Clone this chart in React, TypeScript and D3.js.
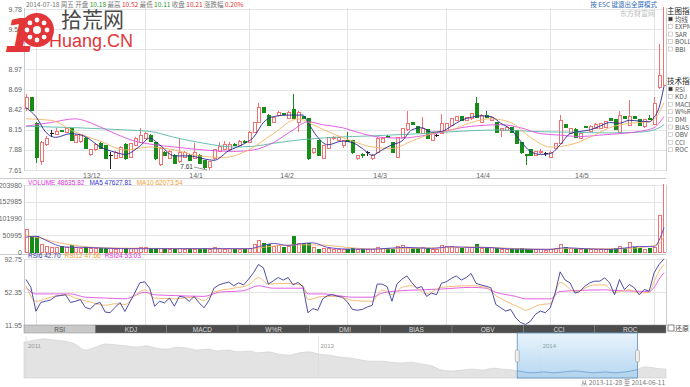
import * as d3 from "d3";
import React from "react";

// candles (index 0 = first visible day)
const opens = [
  8.44, 8.59, 8.24, 7.72, 7.96, 8.10, 8.09, 8.14, 8.12, 8.17,
  7.98, 8.00, 8.04, 7.82, 7.88, 7.97, 7.94, 7.81, 7.77, 7.78,
  7.96, 7.78, 7.94, 7.98, 8.04, 8.08, 7.98, 7.68, 7.85, 7.77,
  7.81, 7.72, 7.78, 7.81, 7.77, 7.81, 7.74, 7.65, 7.77, 7.86,
  7.89, 7.88, 7.96, 7.94, 8.00, 7.98, 8.12, 8.25, 8.45, 8.35,
  8.25, 8.35, 8.37, 8.31, 8.42, 8.25, 8.33, 8.30, 7.84, 8.01,
  7.77, 7.90, 8.03, 8.01, 7.94, 8.01, 8.01, 7.76, 7.82, 7.84,
  7.76, 7.85, 7.98, 8.06, 7.98, 7.78, 8.05, 8.15, 8.25, 8.19,
  8.10, 8.15, 8.01, 8.08, 8.10, 8.14, 8.21, 8.28, 8.33, 8.28,
  8.30, 8.50, 8.25, 8.34, 8.28, 8.25, 8.14, 8.14, 8.18, 8.14,
  7.98, 7.82, 7.88, 7.81, 7.84, 7.83, 7.78, 7.90, 7.97, 8.22,
  8.10, 8.16, 8.04, 8.19, 8.13, 8.17, 8.17, 8.18, 8.30, 8.29,
  8.12, 8.33, 8.21, 8.33, 8.29, 8.19, 8.30, 8.23, 8.72, 8.75,
];
const closes = [
  8.59, 8.41, 7.78, 7.98, 8.04, 8.10, 8.13, 8.13, 8.17, 8.01,
  8.08, 8.09, 7.90, 7.88, 7.96, 7.90, 7.77, 7.81, 7.85, 7.92,
  7.77, 7.97, 8.04, 8.08, 8.10, 8.00, 7.77, 7.90, 7.81, 7.86,
  7.70, 7.85, 7.85, 7.74, 7.85, 7.70, 7.64, 7.72, 7.88, 7.93,
  7.96, 7.96, 7.94, 8.00, 7.98, 8.12, 8.25, 8.45, 8.39, 8.21,
  8.32, 8.39, 8.36, 8.39, 8.31, 8.39, 8.31, 7.77, 7.90, 7.81,
  7.94, 8.05, 8.05, 8.05, 8.01, 8.00, 7.84, 7.80, 7.80, 7.84,
  7.81, 8.04, 8.04, 8.05, 7.85, 8.05, 8.17, 8.24, 8.23, 8.12,
  8.17, 8.04, 8.10, 8.08, 8.24, 8.24, 8.30, 8.33, 8.28, 8.32,
  8.37, 8.32, 8.34, 8.32, 8.32, 8.12, 8.17, 8.18, 8.12, 7.97,
  7.84, 7.80, 7.81, 7.86, 7.86, 7.83, 7.85, 7.97, 8.28, 8.18,
  8.17, 8.05, 8.10, 8.18, 8.20, 8.22, 8.24, 8.26, 8.28, 8.16,
  8.34, 8.31, 8.33, 8.31, 8.21, 8.29, 8.29, 8.51, 8.89, 9.85,
];
const highs = [
  8.64, 8.60, 8.26, 8.00, 8.07, 8.15, 8.17, 8.15, 8.19, 8.18,
  8.09, 8.10, 8.05, 7.89, 7.97, 7.99, 7.95, 7.85, 7.86, 7.93,
  7.97, 7.98, 8.05, 8.17, 8.12, 8.09, 7.99, 7.92, 7.86, 7.88,
  7.82, 8.04, 7.86, 7.82, 7.98, 7.82, 7.75, 7.73, 7.89, 7.99,
  8.00, 7.99, 7.97, 8.02, 8.01, 8.13, 8.26, 8.51, 8.46, 8.36,
  8.33, 8.40, 8.38, 8.40, 8.64, 8.40, 8.34, 8.31, 7.91, 8.02,
  7.95, 8.06, 8.07, 8.06, 8.02, 8.12, 8.02, 7.81, 7.84, 7.86,
  7.82, 8.05, 8.05, 8.08, 7.99, 8.06, 8.18, 8.41, 8.26, 8.20,
  8.32, 8.16, 8.11, 8.10, 8.37, 8.25, 8.31, 8.34, 8.34, 8.33,
  8.38, 8.60, 8.36, 8.41, 8.33, 8.26, 8.18, 8.19, 8.19, 8.15,
  7.99, 7.83, 7.89, 7.87, 7.89, 7.85, 7.86, 7.98, 8.35, 8.23,
  8.18, 8.17, 8.11, 8.20, 8.22, 8.24, 8.25, 8.27, 8.31, 8.30,
  8.41, 8.34, 8.55, 8.34, 8.30, 8.30, 8.35, 8.59, 9.31, 9.90,
];
const lows = [
  8.41, 8.40, 7.70, 7.68, 7.94, 8.05, 8.08, 8.12, 8.11, 8.00,
  7.97, 7.98, 7.89, 7.80, 7.86, 7.89, 7.76, 7.62, 7.76, 7.77,
  7.74, 7.77, 7.93, 7.97, 8.03, 7.99, 7.75, 7.66, 7.80, 7.76,
  7.69, 7.71, 7.77, 7.73, 7.76, 7.69, 7.62, 7.61, 7.75, 7.85,
  7.88, 7.87, 7.93, 7.93, 7.97, 7.97, 8.11, 8.24, 8.38, 8.20,
  8.24, 8.34, 8.35, 8.30, 8.30, 8.12, 8.30, 7.75, 7.83, 7.80,
  7.76, 7.89, 8.02, 8.00, 7.90, 7.99, 7.83, 7.74, 7.77, 7.80,
  7.74, 7.84, 7.97, 8.04, 7.84, 7.77, 8.04, 8.14, 8.22, 8.11,
  8.09, 8.03, 8.00, 8.06, 8.09, 8.13, 8.20, 8.27, 8.27, 8.27,
  8.29, 8.31, 8.24, 8.31, 8.27, 8.11, 8.05, 8.13, 8.11, 7.96,
  7.83, 7.68, 7.80, 7.80, 7.83, 7.80, 7.77, 7.89, 7.96, 8.17,
  8.09, 8.04, 8.03, 8.17, 8.12, 8.16, 8.16, 8.17, 8.27, 8.15,
  8.11, 8.30, 8.20, 8.30, 8.20, 8.18, 8.28, 8.22, 8.70, 8.74,
];
const volumes = [
  67000, 46000, 47000, 24000, 16000, 14000, 14000, 16000, 13000, 19000,
  13000, 11000, 14000, 11000, 10000, 11000, 12000, 10000, 9000, 10000,
  11000, 10000, 11000, 14000, 13000, 11000, 12000, 10000, 9000, 8000,
  9000, 11000, 8000, 9000, 8000, 9000, 10000, 9000, 13000, 11000,
  9000, 10000, 7000, 9000, 8000, 12000, 22000, 34000, 27000, 22000,
  16000, 19000, 15000, 17000, 46000, 27000, 25000, 26000, 14000, 9000,
  11000, 10000, 9000, 8000, 8000, 9000, 10000, 8000, 7000, 8000,
  9000, 14000, 12000, 10000, 9000, 16000, 19000, 14000, 10000, 12000,
  13000, 11000, 9000, 8000, 19000, 17000, 16000, 13000, 12000, 15000,
  14000, 23000, 12000, 11000, 13000, 10000, 9000, 8000, 8000, 9000,
  10000, 8000, 7000, 8000, 7000, 6000, 9000, 12000, 22000, 14000,
  11000, 9000, 8000, 7000, 8000, 9000, 8000, 7000, 8000, 10000,
  17000, 11000, 28000, 14000, 10000, 9000, 11000, 13000, 110000, 260000,
];

// moving averages as [day, value]
const ma5: [number, number][] = [
  [0, 8.45], [2, 8.33], [4, 8.12], [6, 8.05], [9, 8.1], [12, 8.06], [15, 7.92], [18, 7.85], [20, 7.82],
  [23, 7.93], [25, 8.04], [27, 7.95], [30, 7.8], [33, 7.8], [36, 7.76], [38, 7.74], [41, 7.87], [44, 7.96],
  [46, 8.05], [48, 8.25], [50, 8.33], [53, 8.35], [56, 8.35], [57, 8.25], [59, 8.05], [61, 7.95], [64, 8.0],
  [66, 7.98], [68, 7.9], [70, 7.81], [72, 7.88], [74, 7.95], [76, 8.0], [78, 8.15], [80, 8.18], [82, 8.12],
  [84, 8.13], [86, 8.2], [88, 8.28], [90, 8.32], [92, 8.34], [94, 8.33], [96, 8.24], [98, 8.16], [100, 8.0],
  [102, 7.86], [104, 7.82], [106, 7.83], [108, 7.95], [110, 8.1], [112, 8.13], [114, 8.15], [116, 8.2],
  [118, 8.25], [120, 8.24], [122, 8.28], [124, 8.27], [126, 8.26], [127, 8.32], [128, 8.45], [129, 8.74],
];
const ma10: [number, number][] = [
  [0, 8.3], [5, 8.28], [10, 8.12], [15, 8.0], [20, 7.88], [25, 7.92], [30, 7.88], [35, 7.8], [40, 7.78],
  [45, 7.88], [50, 8.1], [55, 8.3], [58, 8.22], [62, 8.1], [66, 8.0], [70, 7.92], [74, 7.9], [78, 8.0],
  [82, 8.1], [86, 8.15], [90, 8.25], [94, 8.3], [98, 8.25], [102, 8.05], [106, 7.92], [110, 7.95],
  [114, 8.05], [118, 8.18], [122, 8.24], [126, 8.26], [128, 8.38], [129, 8.52],
];
const ma20: [number, number][] = [
  [0, 8.2], [5, 8.25], [10, 8.3], [14, 8.22], [18, 8.1], [22, 8.0], [26, 7.95], [30, 7.92], [36, 7.88],
  [42, 7.86], [46, 7.88], [50, 7.98], [54, 8.15], [57, 8.26], [60, 8.22], [64, 8.18], [68, 8.1], [72, 8.05],
  [76, 8.04], [80, 8.07], [84, 8.12], [88, 8.18], [92, 8.21], [96, 8.22], [100, 8.18], [104, 8.1],
  [108, 8.08], [112, 8.06], [116, 8.08], [120, 8.1], [124, 8.13], [127, 8.18], [129, 8.33],
];
const ma30: [number, number][] = [
  [0, 8.2], [10, 8.18], [20, 8.15], [25, 8.13], [30, 8.05], [36, 7.97], [42, 7.92], [46, 7.93], [50, 7.97],
  [56, 8.02], [62, 8.05], [70, 8.07], [80, 8.1], [90, 8.14], [96, 8.15], [102, 8.13], [110, 8.12],
  [118, 8.11], [124, 8.12], [127, 8.15], [129, 8.22],
];
const volMa5: [number, number][] = [
  [0, 45000], [2, 48000], [4, 36000], [6, 22000], [8, 15000], [12, 14000], [20, 10000], [30, 10000],
  [40, 10000], [45, 10000], [48, 20000], [50, 26000], [53, 20000], [56, 26000], [58, 28000], [61, 14000],
  [65, 9000], [70, 8500], [73, 11000], [77, 14000], [82, 11000], [86, 16000], [90, 14000], [93, 14000],
  [97, 10000], [102, 8500], [106, 8000], [109, 13000], [113, 10000], [118, 8000], [121, 12000],
  [124, 17000], [127, 16000], [128, 35000], [129, 75000],
];
const volMa10: [number, number][] = [
  [0, 50000], [3, 42000], [6, 30000], [10, 20000], [15, 13000], [25, 11000], [35, 10000], [45, 10000],
  [50, 18000], [55, 22000], [60, 21000], [65, 14000], [70, 9000], [75, 10000], [80, 12000], [85, 13000],
  [90, 15000], [95, 13000], [100, 10000], [105, 8000], [110, 11000], [115, 10000], [120, 10000],
  [125, 15000], [128, 25000], [129, 48000],
];

const rsi6 = [
  67.7, 57.9, 28.8, 39.5, 41.1, 42.7, 47.2, 48, 49, 39.5,
  41, 43, 33.4, 31.5, 37.5, 39.5, 27.8, 27, 33.4, 39.5,
  28.5, 40, 51.3, 63.6, 64.8, 57, 35, 41, 39, 45,
  35, 47, 46, 41, 47, 39, 33, 42, 57, 61,
  63, 64.5, 60, 63.6, 61, 68, 76, 86, 82, 62,
  66, 70, 67, 70, 61, 64, 59, 27, 32, 30,
  44, 48, 49, 47, 46, 40, 31, 30, 31, 34,
  36, 62, 62, 59, 41, 62, 68, 72, 64, 57,
  59, 47, 51, 49, 63, 65, 69, 72, 67, 70,
  75, 63, 61, 59.5, 57.5, 37, 33, 29, 31, 21,
  15, 12.6, 16.6, 25, 29, 27, 33, 51, 77, 67,
  63.6, 51, 53, 59.5, 63.6, 65.6, 65.6, 69.7, 63.6, 49,
  67.6, 55.4, 61.5, 57.5, 49, 55.4, 53.4, 75.8, 86, 93,
];
const rsi12: [number, number][] = [
  [0, 60], [2, 41], [5, 46], [8, 49], [10, 45], [13, 40], [16, 36], [18, 38], [20, 37], [22, 48],
  [24, 55], [26, 45], [30, 44], [34, 46], [36, 42], [38, 52], [42, 57], [45, 61], [47, 70], [49, 62],
  [53, 63], [56, 60], [57, 43], [60, 47], [63, 47], [66, 42], [70, 41], [72, 55], [74, 49], [76, 58],
  [78, 60], [81, 50], [84, 58], [90, 60], [93, 58], [95, 48], [97, 41], [100, 33], [101, 30], [104, 37],
  [106, 38], [108, 64], [111, 53], [115, 61], [117, 61], [119, 52], [122, 55], [124, 51], [126, 52],
  [127, 65], [128, 78], [129, 86],
];
const rsi24: [number, number][] = [
  [0, 58], [2, 50], [5, 50], [9, 50], [12, 46], [16, 45], [20, 44], [24, 52], [26, 49], [30, 48],
  [36, 47], [39, 52], [44, 54], [47, 60], [50, 57], [56, 57], [57, 50], [60, 50], [63, 48], [66, 46],
  [70, 46], [72, 51], [76, 54], [80, 55], [84, 56], [90, 58], [93, 57], [95, 52], [99, 47], [101, 44],
  [106, 44], [108, 53], [111, 54], [117, 55], [120, 54], [126, 53], [127, 58], [128, 68], [129, 76],
];

const priceTicks = [7.61, 7.88, 8.15, 8.42, 8.69, 8.97, 9.24, 9.51, 9.78];
const volTicks = [0, 50995, 101990, 152985, 203980];
const rsiTicks = [11.95, 52.35, 92.75];
const monthLabels = ["13/12", "14/1", "14/2", "14/3", "14/4", "14/5"];
const monthIdx = [13.3, 34.4, 52.8, 71.6, 92.4, 112.4];
const gridIdx = [2, 24, 45, 65, 85, 106, 127];

const tabs = ["RSI", "KDJ", "MACD", "W%R", "DMI", "BIAS", "OBV", "CCI", "ROC"];
const mainOpts = ["均线", "EXPMA", "SAR", "BOLL", "BBI"];
const techOpts = ["RSI", "KDJ", "MACD", "W%R", "DMI", "BIAS", "OBV", "CCI", "ROC"];

// long range overview (navigator)
const navVals = [
  14.7, 15.1, 15.4, 15.1, 14.9, 14.3, 13.0, 13.6, 14.3, 14.1,
  13.9, 13.6, 13.9, 13.4, 13.2, 13.6, 13.4, 13.0, 13.2, 12.8,
  13.0, 12.6, 12.8, 12.4, 12.6, 12.1, 11.9, 12.4, 12.6, 12.1,
  11.9, 11.5, 11.3, 10.9, 10.6, 10.6, 10.4, 10.2, 10.4, 10.0,
  9.6, 8.7, 8.5, 8.7, 8.9, 8.7, 9.1, 8.9, 8.7, 8.3,
  8.1, 8.3, 8.1, 8.3, 8.5, 8.3, 8.1, 8.3, 8.1, 8.3,
  8.7, 9.4, 9.1, 8.9,
];
const navYears = ["2011", "2013", "2014"];
const navYearIdx = [0.2, 28.9, 50.7];
const navSel = [48.4, 60.2];

const UP = "#f07272";
const DOWN = "#188c18";
const FLAT = "#222";
const GRID = "#e4e4e4";
const NUM = "'Liberation Sans', Arial, sans-serif";
const CJK = "'Noto Sans CJK SC', sans-serif";

export default function App() {
  const n = closes.length;
  const L = 24;
  const R = 666;
  const x = d3.scaleLinear().domain([0, n - 1]).range([26, 664]);
  const yP = d3.scaleLinear().domain([7.61, 9.78]).range([170, 9]);
  const yV = d3.scaleLinear().domain([0, 203980]).range([252, 185]);
  const yR = d3.scaleLinear().domain([11.95, 92.75]).range([325, 259]);
  const xN = d3.scaleLinear().domain([0, navVals.length - 1]).range([L, R]);
  const yN = d3.scaleLinear().domain([7, 16]).range([378, 336]);

  const pLine = d3.line<[number, number]>().x((d) => x(d[0])).y((d) => yP(d[1])).curve(d3.curveMonotoneX);
  const vLine = d3.line<[number, number]>().x((d) => x(d[0])).y((d) => yV(d[1])).curve(d3.curveMonotoneX);
  const rLine = d3.line<[number, number]>().x((d) => x(d[0])).y((d) => yR(d[1])).curve(d3.curveMonotoneX);
  const rsi6Path = d3.line<number>().x((_, i) => x(i)).y((d) => yR(d))(rsi6) || "";
  const navArea = d3.area<number>().x((_, i) => xN(i)).y0(378).y1((d) => yN(d)).curve(d3.curveMonotoneX)(navVals) || "";
  const navLine = d3.line<number>().x((_, i) => xN(i)).y((d) => yN(d)).curve(d3.curveMonotoneX)(navVals) || "";
  const tabW = (R - L) / tabs.length;
  const lowIdx = lows.indexOf(d3.min(lows) as number);

  return (
    <svg width={690} height={387} style={{ position: "absolute", left: 0, top: 0, background: "#fff" }}>
      <defs>
        <clipPath id="cMain"><rect x={L} y={7} width={R - L} height={165} /></clipPath>
        <clipPath id="cVol"><rect x={L} y={184} width={R - L} height={69} /></clipPath>
        <clipPath id="cRsi"><rect x={L} y={258} width={R - L} height={68} /></clipPath>
        <clipPath id="cSel"><rect x={xN(navSel[0])} y={333} width={xN(navSel[1]) - xN(navSel[0])} height={46} /></clipPath>
        <linearGradient id="gSel" x1="0" y1="0" x2="0" y2="1">
          <stop offset="0" stopColor="#e4f1fb" />
          <stop offset="1" stopColor="#a9d1ef" />
        </linearGradient>
      </defs>

      {/* grid */}
      <g shapeRendering="crispEdges" stroke={GRID}>
        {priceTicks.map((t) => <line key={t} x1={L} x2={R} y1={Math.round(yP(t)) + 0.5} y2={Math.round(yP(t)) + 0.5} />)}
        {volTicks.map((t) => <line key={t} x1={L} x2={R} y1={Math.round(yV(t)) + 0.5} y2={Math.round(yV(t)) + 0.5} />)}
        {rsiTicks.map((t) => <line key={t} x1={L} x2={R} y1={Math.round(yR(t)) + 0.5} y2={Math.round(yR(t)) + 0.5} />)}
        {gridIdx.map((g) => (
          <g key={g}>
            <line x1={Math.round(x(g)) + 0.5} x2={Math.round(x(g)) + 0.5} y1={8} y2={171} />
            <line x1={Math.round(x(g)) + 0.5} x2={Math.round(x(g)) + 0.5} y1={185} y2={252} />
            <line x1={Math.round(x(g)) + 0.5} x2={Math.round(x(g)) + 0.5} y1={259} y2={325} />
          </g>
        ))}
        <line x1={L + 0.5} x2={L + 0.5} y1={8} y2={171} stroke="#ccc" />
        <line x1={R + 0.5} x2={R + 0.5} y1={8} y2={171} stroke="#ccc" />
        <line x1={L + 0.5} x2={L + 0.5} y1={185} y2={252} stroke="#ccc" />
        <line x1={R + 0.5} x2={R + 0.5} y1={185} y2={252} stroke="#ccc" />
        <line x1={L + 0.5} x2={L + 0.5} y1={259} y2={325} stroke="#ccc" />
        <line x1={R + 0.5} x2={R + 0.5} y1={259} y2={325} stroke="#ccc" />
        <line x1={0} x2={R} y1={178.5} y2={178.5} stroke="#ccc" />
        <line x1={0} x2={R} y1={254.5} y2={254.5} stroke="#ccc" />
      </g>

      {/* axis labels */}
      <g fontFamily={NUM} fontSize={7} fill="#666" textAnchor="end">
        {priceTicks.map((t) => <text key={t} x={22} y={yP(t) + 2.5}>{t.toFixed(2)}</text>)}
        {volTicks.map((t) => <text key={t} x={22} y={yV(t) + 2.5}>{t}</text>)}
        {rsiTicks.map((t) => <text key={t} x={22} y={yR(t) + 2.5}>{t.toFixed(2)}</text>)}
      </g>
      <g fontFamily={NUM} fontSize={7} fill="#666" textAnchor="middle">
        {monthLabels.map((m, i) => <text key={m} x={x(monthIdx[i])} y={178}>{m}</text>)}
      </g>

      {/* candles */}
      <g clipPath="url(#cMain)" shapeRendering="crispEdges">
        {closes.map((c, i) => {
          const o = opens[i];
          const cx = Math.round(x(i)) + 0.5;
          const col = c === o ? FLAT : c > o ? UP : DOWN;
          const top = yP(Math.max(o, c));
          const bot = yP(Math.min(o, c));
          return (
            <g key={i} stroke={col}>
              <line x1={cx} x2={cx} y1={yP(highs[i])} y2={top} />
              <line x1={cx} x2={cx} y1={bot} y2={yP(lows[i])} />
              {c === o ? (
                <line x1={cx - 2} x2={cx + 2} y1={top} y2={top} />
              ) : (
                <rect x={cx - 1.5} y={top} width={3} height={Math.max(bot - top, 1)} fill={c > o ? "#fff" : col} />
              )}
            </g>
          );
        })}
      </g>
      <g clipPath="url(#cMain)" fill="none" strokeWidth={0.9}>
        <path d={pLine(ma30) || ""} stroke="#58b8a8" />
        <path d={pLine(ma20) || ""} stroke="#e050e0" />
        <path d={pLine(ma10) || ""} stroke="#f2b468" />
        <path d={pLine(ma5) || ""} stroke="#262690" />
      </g>
      <g fontFamily={NUM} fontSize={6.5} fill="#333">
        <text x={x(lowIdx) - 16} y={yP(lows[lowIdx]) - 1} textAnchor="end">{lows[lowIdx].toFixed(2)}</text>
        <line x1={x(lowIdx) - 15} x2={x(lowIdx) - 2} y1={yP(lows[lowIdx]) - 3} y2={yP(lows[lowIdx])} stroke="#555" strokeWidth={0.6} />
      </g>

      {/* volume */}
      <g clipPath="url(#cVol)" shapeRendering="crispEdges">
        {volumes.map((v, i) => {
          const up = closes[i] >= opens[i];
          const cx = Math.round(x(i)) + 0.5;
          return (
            <rect key={i} x={cx - 1.5} y={yV(v)} width={3} height={yV(0) - yV(v)}
              fill={up ? "#fff" : DOWN} stroke={up ? UP : DOWN} />
          );
        })}
      </g>
      <g clipPath="url(#cVol)" fill="none" strokeWidth={0.9}>
        <path d={vLine(volMa10) || ""} stroke="#f2b468" />
        <path d={vLine(volMa5) || ""} stroke="#5a3cc8" />
      </g>
      <text x={28} y={185} fontFamily={NUM} fontSize={6.5}>
        <tspan fill="#e030e0">VOLUME 48635.82</tspan>
        <tspan fill="#3333cc" dx={5}>MA5 47627.81</tspan>
        <tspan fill="#f0a030" dx={5}>MA10 62073.54</tspan>
      </text>

      {/* rsi */}
      <g clipPath="url(#cRsi)" fill="none" strokeWidth={0.9}>
        <path d={rLine(rsi24) || ""} stroke="#e050e0" />
        <path d={rLine(rsi12) || ""} stroke="#f2b468" />
        <path d={rsi6Path} stroke="#3a3a9a" />
      </g>
      <text x={28} y={258} fontFamily={NUM} fontSize={6.5}>
        <tspan fill="#3333aa">RSI6 42.70</tspan>
        <tspan fill="#f0a030" dx={4}>RSI12 47.66</tspan>
        <tspan fill="#e030e0" dx={4}>RSI24 53.03</tspan>
      </text>

      {/* tabs */}
      <g fontFamily={NUM} fontSize={6.5} textAnchor="middle">
        {tabs.map((t, i) => (
          <g key={t}>
            <rect x={L + i * tabW} y={325} width={tabW} height={8} fill={i === 0 ? "#c8c8c8" : "#4d4d4d"} stroke="#888" strokeWidth={0.5} />
            <text x={L + (i + 0.5) * tabW} y={331.5} fill={i === 0 ? "#555" : "#ddd"}>{t}</text>
          </g>
        ))}
      </g>
      <rect x={668} y={325} width={6} height={6} fill="#fff" stroke="#666" strokeWidth={0.8} />
      <text x={675} y={331} fontFamily={CJK} fontSize={7} fill="#444">还原</text>

      {/* navigator */}
      <path d={navArea} fill="#e3e3e3" stroke="#cfcfcf" strokeWidth={0.6} />
      <g fontFamily={NUM} fontSize={6} fill="#999">
        {navYears.map((yy, i) => (
          <g key={yy}>
            <line x1={xN(navYearIdx[i])} x2={xN(navYearIdx[i])} y1={336} y2={378} stroke="#dadada" strokeWidth={0.6} />
            <text x={xN(navYearIdx[i]) + 2} y={348}>{yy}</text>
          </g>
        ))}
      </g>
      <rect x={xN(navSel[0])} y={333} width={xN(navSel[1]) - xN(navSel[0])} height={45} fill="url(#gSel)" fillOpacity={0.85} stroke="#5b8fbf" strokeWidth={0.8} />
      <path d={navLine} clipPath="url(#cSel)" fill="none" stroke="#6a9fd0" strokeWidth={0.8} />
      <text x={xN(navYearIdx[2]) + 2} y={348} fontFamily={NUM} fontSize={6} fill="#8aa">2014</text>
      <rect x={xN(navSel[0]) - 2} y={350} width={4} height={12} rx={1.5} fill="#eee" stroke="#999" strokeWidth={0.6} />
      <rect x={xN(navSel[1]) - 2} y={350} width={4} height={12} rx={1.5} fill="#eee" stroke="#999" strokeWidth={0.6} />
      <text x={665} y={385} textAnchor="end" fontFamily={CJK} fontSize={6.5} fill="#777">从 2013-11-28 至 2014-06-11</text>

      {/* header */}
      <text x={26} y={7} fontFamily={CJK} fontSize={6.5} fill="#777">
        2014-07-18 周五 开盘 <tspan fill="#2a9a2a">10.18</tspan> 最高 <tspan fill="#e03030">10.52</tspan> 最低{" "}
        <tspan fill="#2a9a2a">10.11</tspan> 收盘 <tspan fill="#e03030">10.21</tspan> 涨跌幅 <tspan fill="#e03030">0.20%</tspan>
      </text>
      <text x={657} y={7} textAnchor="end" fontFamily={CJK} fontSize={6.5} fill="#2f6db5">按 ESC 键退出全屏模式</text>
      <text x={655} y={16} textAnchor="end" fontFamily={CJK} fontSize={7} fill="#bbb">东方财富网</text>

      {/* right side options */}
      <g fontFamily={CJK} fontSize={6.5} fill="#555">
        <text x={667} y={14} fontSize={7.5} fill="#222">主图指标</text>
        {mainOpts.map((o, i) => (
          <g key={o}>
            <rect x={668.5} y={17 + i * 7.5} width={4} height={4} fill={i === 0 ? "#333" : "#fff"} stroke="#aaa" strokeWidth={0.5} />
            <text x={675} y={21.5 + i * 7.5}>{o}</text>
          </g>
        ))}
        <text x={667} y={84} fontSize={7.5} fill="#222">技术指标</text>
        {techOpts.map((o, i) => (
          <g key={o}>
            <rect x={668.5} y={87 + i * 7.6} width={4} height={4} fill={i === 0 ? "#333" : "#fff"} stroke="#aaa" strokeWidth={0.5} />
            <text x={675} y={91.5 + i * 7.6}>{o}</text>
          </g>
        ))}
      </g>

      {/* site watermark */}
      <g>
        <text x={4} y={52} fontFamily="'DejaVu Sans', sans-serif" fontWeight="bold" fontStyle="italic" fontSize={46} fill="#e2363b">1</text>
        <circle cx={37} cy={30} r={17} fill="#e2363b" />
        {d3.range(8).map((k) => (
          <circle key={k} cx={37 + 10 * Math.cos((k * Math.PI) / 4)} cy={30 + 10 * Math.sin((k * Math.PI) / 4)} r={2.4} fill="#fff" />
        ))}
        <circle cx={37} cy={30} r={4} fill="#fff" />
        <text x={61} y={27} fontFamily={CJK} fontSize={21} fill="#4a4a4a">拾荒网</text>
        <text x={49} y={47} fontFamily="'Liberation Sans', Arial, sans-serif" fontSize={18} fill="#e2363b">Huang.CN</text>
      </g>
    </svg>
  );
}
